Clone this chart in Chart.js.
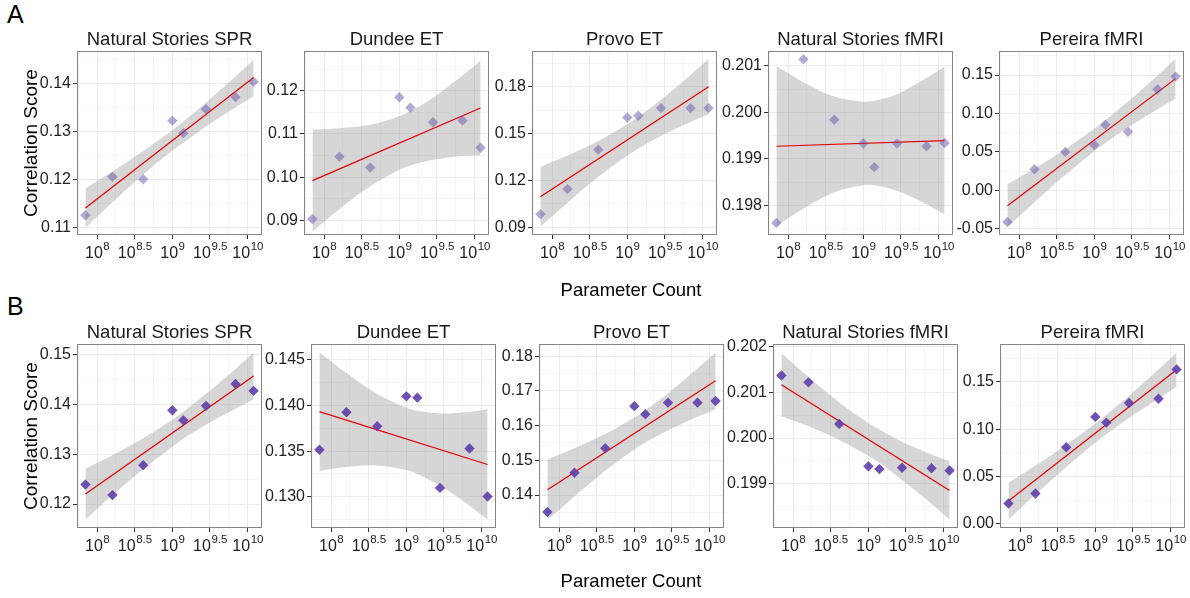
<!DOCTYPE html>
<html>
<head>
<meta charset="utf-8">
<script src="https://cdn.jsdelivr.net/npm/chart.js@4.4.0/dist/chart.umd.min.js"></script>
<style>
  body { margin: 0; background: #fff; width: 1190px; height: 598px; position: relative; overflow: hidden;
         font-family: "Liberation Sans", Arial, sans-serif; }
  canvas { position: absolute; }
  .txt { position: absolute; color: #000; white-space: nowrap; z-index: 2; }
  .ylab { transform: translate(-50%, -50%) rotate(-90deg); font-size: 19px; }
  .xlab { transform: translate(-50%, -50%); font-size: 18.5px; }
</style>
</head>
<body>
<div class="txt" style="left:7px;top:0px;font-size:25px">A</div>
<div class="txt" style="left:7px;top:292px;font-size:25px">B</div>
<div class="txt ylab" style="left:31px;top:143px">Correlation Score</div>
<div class="txt ylab" style="left:31px;top:436px">Correlation Score</div>
<div class="txt xlab" style="left:631px;top:290px">Parameter Count</div>
<div class="txt xlab" style="left:631px;top:581px">Parameter Count</div>

<script>
// log10 of model size (Pythia 70M ... 12B)
const paramLog = [7.845, 8.204, 8.613, 9.0, 9.146, 9.447, 9.839, 10.079];
const xTickExp = ["8", "8.5", "9", "9.5", "10"];
const xRange = [7.733, 10.191];
const panelTitles = ["Natural Stories SPR", "Dundee ET", "Provo ET", "Natural Stories fMRI", "Pereira fMRI"];

// ---- row A ----
const aSprScore = [0.1126, 0.1206, 0.1201, 0.1323, 0.1297, 0.1347, 0.1372, 0.1404];
const aSprFit = [0.1141, 0.1413];
const aSprHi = [0.1182, 0.1217, 0.1260, 0.1303, 0.1321, 0.1361, 0.1415, 0.1450];
const aSprLo = [0.1100, 0.1153, 0.1211, 0.1261, 0.1277, 0.1311, 0.1351, 0.1374];
const aSprTicks = ["0.11", "0.12", "0.13", "0.14"];
const aSprRange = [0.1085, 0.1468];

const aDundeeScore = [0.0903, 0.1047, 0.1022, 0.1185, 0.1161, 0.1127, 0.1131, 0.1068];
const aDundeeFit = [0.0992, 0.1160];
const aDundeeHi = [0.1110, 0.1113, 0.1121, 0.1141, 0.1153, 0.1184, 0.1235, 0.1270];
const aDundeeLo = [0.0874, 0.0926, 0.0979, 0.1017, 0.1027, 0.1040, 0.1049, 0.1050];
const aDundeeTicks = ["0.09", "0.10", "0.11", "0.12"];
const aDundeeRange = [0.0866, 0.1292];

const aProvoScore = [0.0985, 0.1145, 0.1398, 0.1604, 0.1615, 0.1664, 0.1664, 0.1664];
const aProvoFit = [0.1096, 0.1801];
const aProvoHi = [0.1287, 0.1360, 0.1454, 0.1561, 0.1609, 0.1718, 0.1877, 0.1978];
const aProvoLo = [0.0905, 0.1058, 0.1224, 0.1361, 0.1406, 0.1486, 0.1575, 0.1624];
const aProvoTicks = ["0.09", "0.12", "0.15", "0.18"];
const aProvoRange = [0.0851, 0.2030];

const aNsFmriScore = [0.19762, 0.20114, 0.19984, 0.19933, 0.19882, 0.19933, 0.19927, 0.19934];
const aNsFmriFit = [0.19927, 0.19939];
const aNsFmriHi = [0.20099, 0.20065, 0.20034, 0.20023, 0.20025, 0.20039, 0.20074, 0.20098];
const aNsFmriLo = [0.19755, 0.19793, 0.19828, 0.19843, 0.19843, 0.19831, 0.19802, 0.19780];
const aNsFmriTicks = ["0.198", "0.199", "0.200", "0.201"];
const aNsFmriRange = [0.19736, 0.20132];

const aPereiraScore = [-0.041, 0.0275, 0.050, 0.059, 0.0854, 0.0762, 0.1315, 0.1479];
const aPereiraFit = [-0.0200, 0.1453];
const aPereiraHi = [0.0079, 0.0286, 0.0536, 0.0801, 0.0911, 0.1154, 0.1495, 0.1711];
const aPereiraLo = [-0.0479, -0.0154, 0.0200, 0.0509, 0.0615, 0.0816, 0.1055, 0.1195];
const aPereiraTicks = ["-0.05", "0.00", "0.05", "0.10", "0.15"];
const aPereiraRange = [-0.0580, 0.1812];

// ---- row B ----
const bSprScore = [0.1239, 0.1218, 0.1278, 0.1388, 0.1368, 0.1397, 0.1441, 0.1427];
const bSprFit = [0.1220, 0.1457];
const bSprHi = [0.1271, 0.1298, 0.1332, 0.1369, 0.1385, 0.1421, 0.1471, 0.1504];
const bSprLo = [0.1169, 0.1218, 0.1270, 0.1315, 0.1331, 0.1359, 0.1391, 0.1410];
const bSprTicks = ["0.12", "0.13", "0.14", "0.15"];
const bSprRange = [0.1152, 0.1521];

const bDundeeScore = [0.13515, 0.13924, 0.13771, 0.14098, 0.14084, 0.13098, 0.13529, 0.13004];
const bDundeeFit = [0.13932, 0.13354];
const bDundeeHi = [0.14581, 0.14352, 0.14123, 0.13973, 0.13941, 0.13912, 0.13928, 0.13956];
const bDundeeLo = [0.13283, 0.13326, 0.13343, 0.13293, 0.13251, 0.13124, 0.12904, 0.12752];
const bDundeeTicks = ["0.130", "0.135", "0.140", "0.145"];
const bDundeeRange = [0.1266, 0.1467];

const bProvoScore = [0.1351, 0.1464, 0.1535, 0.1656, 0.1633, 0.1666, 0.1666, 0.1671];
const bProvoFit = [0.1415, 0.1729];
const bProvoHi = [0.15026, 0.15347, 0.15755, 0.16231, 0.16444, 0.16934, 0.17644, 0.18102];
const bProvoLo = [0.13270, 0.13959, 0.14699, 0.15311, 0.15510, 0.15866, 0.16258, 0.16474];
const bProvoTicks = ["0.14", "0.15", "0.16", "0.17", "0.18"];
const bProvoRange = [0.1305, 0.1835];

const bNsFmriScore = [0.20137, 0.20122, 0.20031, 0.19938, 0.19932, 0.19935, 0.19934, 0.19929];
const bNsFmriFit = [0.20117, 0.19885];
const bNsFmriHi = [0.20186, 0.20134, 0.20078, 0.20033, 0.20019, 0.19992, 0.19964, 0.19949];
const bNsFmriLo = [0.20048, 0.20026, 0.19996, 0.19961, 0.19946, 0.19908, 0.19856, 0.19821];
const bNsFmriTicks = ["0.199", "0.200", "0.201", "0.202"];
const bNsFmriRange = [0.19803, 0.20206];

const bPereiraScore = [0.0214, 0.032, 0.0809, 0.113, 0.107, 0.1277, 0.1323, 0.1633];
const bPereiraFit = [0.0239, 0.1629];
const bPereiraHi = [0.0434, 0.0616, 0.0834, 0.1060, 0.1153, 0.1354, 0.1634, 0.1810];
const bPereiraLo = [0.0044, 0.0308, 0.0600, 0.0856, 0.0946, 0.1118, 0.1326, 0.1449];
const bPereiraTicks = ["0.00", "0.05", "0.10", "0.15"];
const bPereiraRange = [-0.0046, 0.1902];

const FONT = '"Liberation Sans", Arial, sans-serif';
const pointColA = "rgba(106, 81, 170, 0.5)";
const pointColB = "rgba(95, 62, 170, 0.9)";

// panel boxes: [left, top, width, height] of the plot area
const panels = [
  { box: [77, 51, 185, 184], title: panelTitles[0], col: pointColA, s: aSprScore, f: aSprFit, hi: aSprHi, lo: aSprLo, t: aSprTicks, r: aSprRange },
  { box: [304, 51, 185, 184], title: panelTitles[1], col: pointColA, s: aDundeeScore, f: aDundeeFit, hi: aDundeeHi, lo: aDundeeLo, t: aDundeeTicks, r: aDundeeRange },
  { box: [532, 51, 185, 184], title: panelTitles[2], col: pointColA, s: aProvoScore, f: aProvoFit, hi: aProvoHi, lo: aProvoLo, t: aProvoTicks, r: aProvoRange },
  { box: [768, 51, 185, 184], title: panelTitles[3], col: pointColA, s: aNsFmriScore, f: aNsFmriFit, hi: aNsFmriHi, lo: aNsFmriLo, t: aNsFmriTicks, r: aNsFmriRange },
  { box: [999, 51, 185, 184], title: panelTitles[4], col: pointColA, s: aPereiraScore, f: aPereiraFit, hi: aPereiraHi, lo: aPereiraLo, t: aPereiraTicks, r: aPereiraRange },
  { box: [77, 344, 185, 184], title: panelTitles[0], col: pointColB, s: bSprScore, f: bSprFit, hi: bSprHi, lo: bSprLo, t: bSprTicks, r: bSprRange },
  { box: [311, 344, 185, 184], title: panelTitles[1], col: pointColB, s: bDundeeScore, f: bDundeeFit, hi: bDundeeHi, lo: bDundeeLo, t: bDundeeTicks, r: bDundeeRange },
  { box: [539, 344, 185, 184], title: panelTitles[2], col: pointColB, s: bProvoScore, f: bProvoFit, hi: bProvoHi, lo: bProvoLo, t: bProvoTicks, r: bProvoRange },
  { box: [773, 344, 185, 184], title: panelTitles[3], col: pointColB, s: bNsFmriScore, f: bNsFmriFit, hi: bNsFmriHi, lo: bNsFmriLo, t: bNsFmriTicks, r: bNsFmriRange },
  { box: [1000, 344, 185, 184], title: panelTitles[4], col: pointColB, s: bPereiraScore, f: bPereiraFit, hi: bPereiraHi, lo: bPereiraLo, t: bPereiraTicks, r: bPereiraRange },
];

const PAD_L = 52, PAD_T = 30, PAD_R = 8, PAD_B = 32;

// border, facet title and 10^x labels, drawn like ggplot
const ggPanel = {
  id: "ggPanel",
  afterDraw(chart, args, opts) {
    const { ctx, chartArea: a, scales } = chart;
    ctx.save();
    ctx.strokeStyle = "#858585";
    ctx.lineWidth = 1;
    ctx.strokeRect(Math.round(a.left) + 0.5, Math.round(a.top) + 0.5,
                   Math.round(a.right - a.left) - 1, Math.round(a.bottom - a.top) - 1);

    ctx.fillStyle = "#1a1a1a";
    ctx.font = "18.5px " + FONT;
    ctx.textAlign = "center";
    ctx.textBaseline = "alphabetic";
    ctx.fillText(opts.title, (a.left + a.right) / 2, a.top - 6);

    ctx.textAlign = "left";
    ctx.fillStyle = "#222";
    xTickExp.forEach((e) => {
      const px = scales.x.getPixelForValue(parseFloat(e));
      ctx.font = "16px " + FONT;
      const w1 = ctx.measureText("10").width;
      ctx.font = "11.5px " + FONT;
      const w2 = ctx.measureText(e).width;
      const x0 = px - (w1 + w2) / 2;
      ctx.font = "16px " + FONT;
      ctx.fillText("10", x0, a.bottom + 23);
      ctx.font = "11.5px " + FONT;
      ctx.fillText(e, x0 + w1 + 0.5, a.bottom + 15);
    });
    ctx.restore();
  },
};

function gridOpts() {
  return {
    color: "#EBEBEB",
    lineWidth: (c) => (c.tick && c.tick.mj ? 1 : 0.5),
    tickColor: (c) => (c.tick && c.tick.mj ? "#333" : "rgba(0,0,0,0)"),
    tickLength: 4,
    drawTicks: true,
  };
}

panels.forEach((p) => {
  const [bl, bt, bw, bh] = p.box;
  const cv = document.createElement("canvas");
  cv.width = bw + PAD_L + PAD_R;
  cv.height = bh + PAD_T + PAD_B;
  cv.style.left = bl - PAD_L + "px";
  cv.style.top = bt - PAD_T + "px";
  cv.style.width = cv.width + "px";
  cv.style.height = cv.height + "px";
  document.body.appendChild(cv);

  const yMajor = p.t.map(Number);
  const yStep = yMajor[1] - yMajor[0];

  new Chart(cv.getContext("2d"), {
    data: {
      datasets: [
        {
          type: "scatter",
          data: paramLog.map((x, i) => ({ x, y: p.s[i] })),
          pointStyle: "rectRot",
          pointRadius: 5.2,
          borderWidth: 0,
          backgroundColor: p.col,
          order: 0,
        },
        {
          type: "line",
          data: [{ x: paramLog[0], y: p.f[0] }, { x: paramLog[paramLog.length - 1], y: p.f[1] }],
          borderColor: "rgb(228, 0, 0)",
          borderWidth: 1.2,
          pointRadius: 0,
          fill: false,
          order: 1,
        },
        {
          type: "line",
          data: paramLog.map((x, i) => ({ x, y: p.hi[i] })),
          borderWidth: 0,
          borderColor: "rgba(0,0,0,0)",
          backgroundColor: "rgba(153,153,153,0.4)",
          pointRadius: 0,
          tension: 0.35,
          fill: "+1",
          order: 2,
        },
        {
          type: "line",
          data: paramLog.map((x, i) => ({ x, y: p.lo[i] })),
          borderWidth: 0,
          borderColor: "rgba(0,0,0,0)",
          pointRadius: 0,
          tension: 0.35,
          fill: false,
          order: 3,
        },
      ],
    },
    options: {
      responsive: false,
      animation: false,
      devicePixelRatio: 1,
      layout: { padding: { top: PAD_T, right: PAD_R, left: 0, bottom: 0 } },
      plugins: {
        legend: { display: false },
        tooltip: { enabled: false },
        ggPanel: { title: p.title },
      },
      scales: {
        x: {
          type: "linear",
          min: xRange[0],
          max: xRange[1],
          afterBuildTicks: (s) => {
            const out = [];
            xTickExp.forEach((e) => out.push({ value: parseFloat(e), mj: true }));
            xTickExp.forEach((e) => {
              const v = parseFloat(e) - 0.25;
              if (v >= xRange[0]) out.push({ value: v, mj: false });
            });
            out.sort((a, b) => a.value - b.value);
            s.ticks = out;
          },
          afterFit: (s) => { s.height = PAD_B; },
          ticks: { callback: () => "", autoSkip: false },
          grid: gridOpts(),
          border: { display: false },
        },
        y: {
          type: "linear",
          min: p.r[0],
          max: p.r[1],
          afterBuildTicks: (s) => {
            const out = yMajor.map((v) => ({ value: v, mj: true }));
            for (let k = -1; k < yMajor.length; k++) {
              const v = yMajor[0] + (k + 0.5) * yStep;
              if (v >= p.r[0] && v <= p.r[1]) out.push({ value: v, mj: false });
            }
            out.sort((a, b) => a.value - b.value);
            s.ticks = out;
          },
          afterFit: (s) => { s.width = PAD_L; },
          ticks: {
            autoSkip: false,
            padding: 2,
            color: "#222",
            font: { family: FONT, size: 16 },
            callback: (v, i, arr) => {
              if (!arr[i].mj) return "";
              const j = yMajor.findIndex((m) => Math.abs(m - v) < yStep / 100);
              return j >= 0 ? p.t[j] : "";
            },
          },
          grid: gridOpts(),
          border: { display: false },
        },
      },
    },
    plugins: [ggPanel],
  });
});
</script>
</body>
</html>
